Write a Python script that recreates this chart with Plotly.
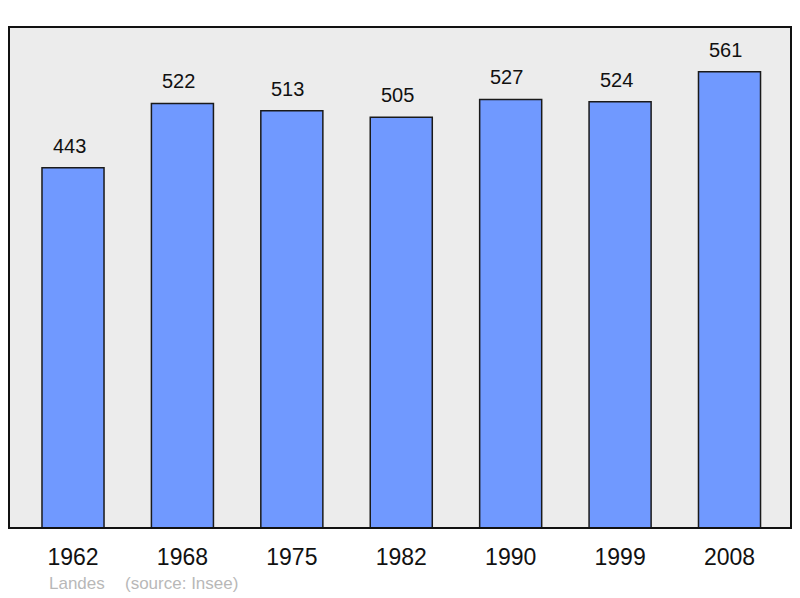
import plotly.graph_objects as go

# population par recensement
annees = ['1962', '1968', '1975', '1982', '1990', '1999', '2008']
population = [443, 522, 513, 505, 527, 524, 561]

fig = go.Figure()

fig.add_trace(go.Bar(x=annees, y=population,
                     width=0.567,
                     marker=dict(color='#7099ff', line=dict(color='#1a1a1a', width=1.5)),
                     hoverinfo='x+y'))

# valeurs au-dessus des barres (x en index de categorie)
for i, p in enumerate(population):
    fig.add_annotation(x=i, y=p, text=str(p), showarrow=False,
                       yanchor='bottom', yshift=9, xshift=-4,
                       font=dict(family='Liberation Sans, Arial', size=20, color='#111'))

fig.add_annotation(xref='paper', yref='paper', x=(47 - 9) / 782, y=-0.11,
                   xanchor='left', yanchor='middle', showarrow=False, text='Landes',
                   font=dict(family='Liberation Sans, Arial', size=17, color='#b8b8b8'))
fig.add_annotation(xref='paper', yref='paper', x=(123 - 9) / 782, y=-0.11,
                   xanchor='left', yanchor='middle', showarrow=False, text='(source: Insee)',
                   font=dict(family='Liberation Sans, Arial', size=17, color='#b8b8b8'))

# cadre
fig.add_shape(type='rect', xref='paper', yref='paper', x0=0, y0=0, x1=1, y1=1,
              line=dict(color='#111', width=2), layer='above')

fig.update_layout(width=800, height=598,
                  margin=dict(l=9, r=9, t=27, b=70),
                  paper_bgcolor='white', plot_bgcolor='#ececec',
                  showlegend=False,
                  font=dict(family='Liberation Sans, Arial', color='#111'))
fig.update_xaxes(type='category', range=[-0.585, 6.562], showgrid=False,
                 ticks='outside', ticklen=8, tickcolor='rgba(0,0,0,0)',
                 tickfont=dict(size=23, color='#111'))
fig.update_yaxes(range=[0, 616], showgrid=False, zeroline=False, showticklabels=False)

fig.write_html('out.html', config={'displayModeBar': False},
               post_script="document.body.style.margin='0';")
